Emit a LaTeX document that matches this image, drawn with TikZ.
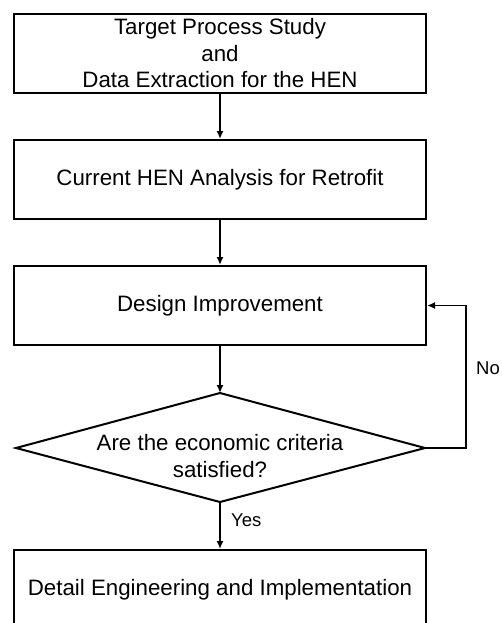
\documentclass[tikz,border=0pt]{standalone}
\usepackage{fontspec}
\setmainfont{Liberation Sans}
\usetikzlibrary{arrows.meta}
\begin{document}
\begin{tikzpicture}[x=1pt,y=-1pt,
  box/.style={draw, line width=2pt, minimum width=412pt, minimum height=79pt, inner sep=0pt, align=center,
    font=\fontsize{22.3}{26.5}\selectfont},
  lbl/.style={font=\fontsize{18.5}{22}\selectfont, inner sep=0pt},
  arr/.style={line width=1.8pt, -{Latex[length=8pt,width=7pt]}},
  ln/.style={line width=2pt}]
\useasboundingbox (0,0) rectangle (502,623);
\clip (0,0) rectangle (502,623);
\node[box] (b1) at (220,53.5) {Target Process Study\\and\\Data Extraction for the HEN};
\node[box] (b2) at (220,179.5) {Current HEN Analysis for Retrofit};
\node[box] (b3) at (220,305.5) {Design Improvement};
\coordinate (dT) at (220,393);
\coordinate (dR) at (425,448);
\coordinate (dB) at (220,502);
\coordinate (dL) at (16,448);
\draw[ln, line join=miter] (dT) -- (dR) -- (dB) -- (dL) -- cycle;
\node[align=center, inner sep=0pt, font=\fontsize{22.3}{27}\selectfont] (dq) at (220,456) {Are the economic criteria\\satisfied?};
\node[box] (b5) at (220,589.5) {Detail Engineering and Implementation};
\coordinate (cR) at (466,448);
\draw[arr] (b1.south) -- (b2.north);
\draw[arr] (b2.south) -- (b3.north);
\draw[arr] (b3.south) -- (dT);
\draw[arr] (dB) -- (b5.north);
\draw[arr] (dR) -- (cR) |- (b3.east);
\node[lbl, anchor=west] (no) at (476,368) {No};
\node[lbl, anchor=west] (yes) at (231,520) {Yes};
\end{tikzpicture}
\end{document}
